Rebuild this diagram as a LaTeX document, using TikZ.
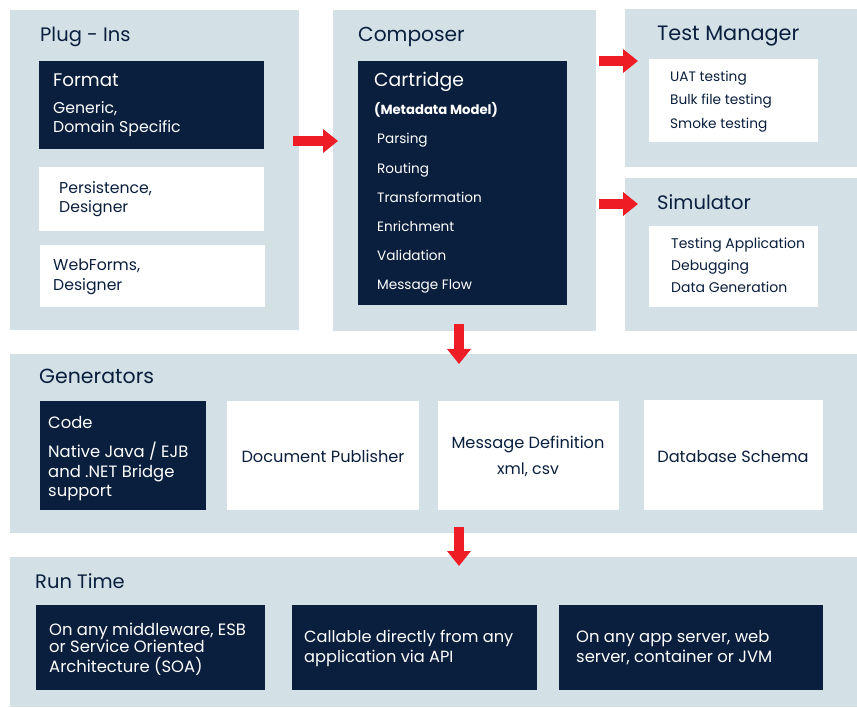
\documentclass[tikz,border=0pt]{standalone}
\usepackage{fontspec}
\setmainfont{Poppins}
\usetikzlibrary{arrows.meta}
\definecolor{panelc}{HTML}{D3E0E6}
\definecolor{navy}{HTML}{0A1F3D}
\definecolor{redc}{HTML}{EE1C25}
\tikzset{
  panel/.style={fill=panelc, draw=none, anchor=north west, inner sep=0pt},
  darkbox/.style={fill=navy, draw=none, anchor=north west, inner sep=0pt},
  lightbox/.style={fill=white, draw=none, anchor=north west, inner sep=0pt},
  ttl/.style={anchor=base west, inner sep=0pt, text=navy, font=\fontsize{19.5}{22}\selectfont},
  dttl/.style={anchor=base west, inner sep=0pt, text=white, font=\fontsize{18.3}{22}\selectfont},
  itm/.style={anchor=base west, inner sep=0pt, text=navy, font=\fontsize{14}{17}\selectfont},
  ditm/.style={anchor=base west, inner sep=0pt, text=white, font=\fontsize{14}{17}\selectfont},
  pitm/.style={anchor=base west, inner sep=0pt, text=navy, font=\fontsize{15.7}{18}\selectfont},
  pditm/.style={anchor=base west, inner sep=0pt, text=white, font=\fontsize{15.7}{18}\selectfont},
  gditm/.style={anchor=base west, inner sep=0pt, text=white, font=\fontsize{16.4}{19}\selectfont},
  citm/.style={anchor=base, inner sep=0pt, text=navy, font=\fontsize{16.2}{19}\selectfont},
  bigarrow/.style={draw=redc, line width=10pt, -{Triangle[width=23pt,length=15pt]}, fill=redc},
}
\begin{document}
\begin{tikzpicture}[x=1pt,y=-1pt]
\useasboundingbox (0,0) rectangle (857,708);
% panels
\node[panel, minimum width=289pt, minimum height=320pt] (plug) at (10,10) {};
\node[panel, minimum width=263pt, minimum height=321pt] (comp) at (333,10) {};
\node[panel, minimum width=232pt, minimum height=158pt] (test) at (625,9) {};
\node[panel, minimum width=232pt, minimum height=153pt] (sim) at (625,178) {};
\node[panel, minimum width=847pt, minimum height=179pt] (gen) at (10,354) {};
\node[panel, minimum width=847pt, minimum height=150pt] (run) at (10,557) {};
% Plug-Ins
\node[ttl] (plugt) at (40,42) {Plug - Ins};
\node[darkbox, minimum width=225pt, minimum height=88pt] (fmt) at (39,61) {};
\node[dttl] (fmtt) at (53,87) {Format};
\node[pditm] (fmt1) at (53,114) {Generic,};
\node[pditm] (fmt2) at (53,133) {Domain Specific};
\node[lightbox, minimum width=225pt, minimum height=64pt] (pers) at (39,167) {};
\node[pitm] (pers1) at (59,194) {Persistence,};
\node[pitm] (pers2) at (59,213) {Designer};
\node[lightbox, minimum width=225pt, minimum height=62pt] (webf) at (40,245) {};
\node[pitm] (webf1) at (53,271) {WebForms,};
\node[pitm] (webf2) at (53,291) {Designer};
% Composer
\node[ttl, font=\fontsize{20.2}{22}\selectfont] (compt) at (358,42) {Composer};
\node[darkbox, minimum width=209pt, minimum height=244pt] (cart) at (358,61) {};
\node[dttl, font=\fontsize{18.8}{22}\selectfont] (cartt) at (374,87) {Cartridge};
\node[ditm, font=\fontsize{13.2}{15}\selectfont\bfseries] (meta) at (374,115) {(Metadata Model)};
\node[ditm, font=\fontsize{13.6}{17}\selectfont] (c1) at (377,144) {Parsing};
\node[ditm, font=\fontsize{13.6}{17}\selectfont] (c2) at (377,174) {Routing};
\node[ditm, font=\fontsize{13.6}{17}\selectfont] (c3) at (377,203) {Transformation};
\node[ditm, font=\fontsize{13.6}{17}\selectfont] (c4) at (377,232) {Enrichment};
\node[ditm, font=\fontsize{13.6}{17}\selectfont] (c5) at (377,261) {Validation};
\node[ditm, font=\fontsize{13.6}{17}\selectfont] (c6) at (377,290) {Message Flow};
% Test Manager
\node[ttl, font=\fontsize{20.8}{22}\selectfont] (testt) at (657,41) {Test Manager};
\node[lightbox, minimum width=169pt, minimum height=83pt] (testb) at (649,59) {};
\node[itm, font=\fontsize{13.7}{17}\selectfont] (t1) at (670,82) {UAT testing};
\node[itm, font=\fontsize{13.7}{17}\selectfont] (t2) at (670,105) {Bulk file testing};
\node[itm, font=\fontsize{13.7}{17}\selectfont] (t3) at (670,129) {Smoke testing};
% Simulator
\node[ttl] (simt) at (657,210) {Simulator};
\node[lightbox, minimum width=169pt, minimum height=81pt] (simb) at (649,226) {};
\node[itm] (s1) at (671,249) {Testing Application};
\node[itm] (s2) at (671,271) {Debugging};
\node[itm] (s3) at (671,293) {Data Generation};
% Generators
\node[ttl, font=\fontsize{20.5}{22}\selectfont] (gent) at (39,384) {Generators};
\node[darkbox, minimum width=166pt, minimum height=109pt] (code) at (40,401) {};
\node[gditm] (codet) at (48,429) {Code};
\node[gditm] (code1) at (48,457) {Native Java / EJB};
\node[gditm] (code2) at (48,477) {and .NET Bridge};
\node[gditm] (code3) at (48,496) {support};
\node[lightbox, minimum width=192pt, minimum height=109pt] (doc) at (227,401) {};
\node[citm] (doct) at (323,462) {Document Publisher};
\node[lightbox, minimum width=181pt, minimum height=109pt] (msg) at (438,401) {};
\node[citm] (msgt) at (528,449) {Message Definition};
\node[citm, font=\fontsize{15.8}{18}\selectfont] (msg2) at (528,475) {xml, csv};
\node[lightbox, minimum width=179pt, minimum height=110pt] (db) at (644,400) {};
\node[citm] (dbt) at (733,462) {Database Schema};
% Run Time
\node[ttl] (runt) at (35,588) {Run Time};
\node[darkbox, minimum width=229pt, minimum height=85pt] (r1) at (36,605) {};
\node[gditm] (r1a) at (49,635) {On any middleware, ESB};
\node[gditm] (r1b) at (49,652) {or Service Oriented};
\node[gditm] (r1c) at (49,672) {Architecture (SOA)};
\node[darkbox, minimum width=245pt, minimum height=85pt] (r2) at (292,605) {};
\node[gditm, font=\fontsize{16.2}{19}\selectfont] (r2a) at (304,642) {Callable directly from any};
\node[gditm, font=\fontsize{16.2}{19}\selectfont] (r2b) at (304,662) {application via API};
\node[darkbox, minimum width=264pt, minimum height=85pt] (r3) at (559,605) {};
\node[gditm] (r3a) at (576,642) {On any app server, web};
\node[gditm] (r3b) at (576,662) {server, container or JVM};
% arrows
\coordinate (a1s) at (293,141); \coordinate (a1e) at (338,141);
\coordinate (a2s) at (599,61);  \coordinate (a2e) at (638,61);
\coordinate (a3s) at (599,204); \coordinate (a3e) at (638,204);
\coordinate (a4s) at (459,324); \coordinate (a4e) at (459,364);
\coordinate (a5s) at (459,527); \coordinate (a5e) at (459,566);
\draw[bigarrow] (a1s) -- (a1e);
\draw[bigarrow] (a2s) -- (a2e);
\draw[bigarrow] (a3s) -- (a3e);
\draw[bigarrow] (a4s) -- (a4e);
\draw[bigarrow] (a5s) -- (a5e);
\end{tikzpicture}
\end{document}
